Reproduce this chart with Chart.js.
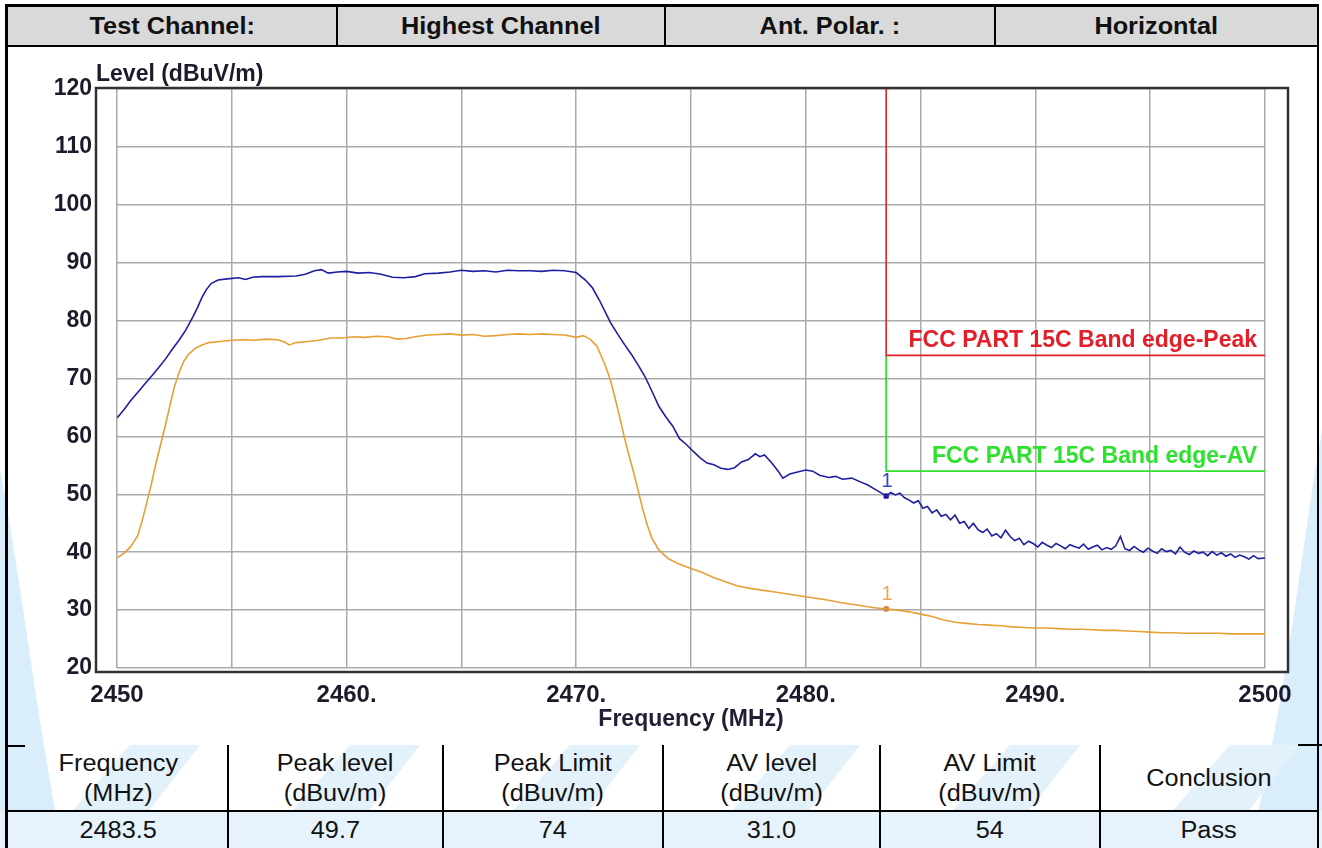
<!DOCTYPE html>
<html><head><meta charset="utf-8">
<script src="https://cdn.jsdelivr.net/npm/chart.js@4/dist/chart.umd.min.js"></script>
<style>
html,body{margin:0;padding:0;background:#fff;width:1322px;height:848px;overflow:hidden;font-family:"Liberation Sans",Arial,sans-serif;}
#wm{position:absolute;left:0;top:0;z-index:0;}
.hc{position:absolute;top:4px;height:43px;background:#d9d9d9;box-sizing:border-box;border-top:3px solid #000;border-bottom:2px solid #000;display:flex;align-items:center;justify-content:center;font-weight:bold;font-size:23px;color:#111;z-index:2;}
.hc span,.tc span{display:inline-block;transform:scaleX(1.1);}
.tc{position:absolute;box-sizing:border-box;display:flex;align-items:center;justify-content:center;text-align:center;font-size:23px;color:#111;z-index:2;line-height:30px;}
.vl{position:absolute;background:#000;z-index:3;}
#box{position:absolute;left:5px;top:47px;width:1314px;height:698px;border-left:3px solid #000;border-right:2px solid #000;box-sizing:border-box;z-index:1;}
#wrap{position:absolute;left:0;top:47px;width:1322px;height:698px;z-index:2;}
</style></head>
<body>
<svg id="wm" width="1322" height="848">
  <path d="M0,470 C18,560 34,700 62,848 L0,848 Z" fill="#d9edfa"/>
  <path d="M1322,430 C1302,540 1290,680 1250,848 L1322,848 Z" fill="#d9edfa"/>
  <polygon points="130,745 200,745 120,848 40,848" fill="#e3f1fb"/>
  <polygon points="350,745 420,745 340,848 260,848" fill="#e3f1fb"/>
  <polygon points="570,745 640,745 560,848 480,848" fill="#e3f1fb"/>
  <polygon points="790,745 860,745 780,848 700,848" fill="#e3f1fb"/>
  <polygon points="1010,745 1080,745 1000,848 920,848" fill="#e3f1fb"/>
  <polygon points="1230,745 1300,745 1220,848 1140,848" fill="#e3f1fb"/>
  <rect x="0" y="811" width="1322" height="37" fill="#e6f3fc"/>
</svg>

<div class="hc" style="left:5px;width:331px;border-left:3px solid #000;"><span>Test Channel:</span></div>
<div class="hc" style="left:336px;width:328px;border-left:2px solid #000;"><span>Highest Channel</span></div>
<div class="hc" style="left:664px;width:330px;border-left:2px solid #000;"><span>Ant. Polar. :</span></div>
<div class="hc" style="left:994px;width:325px;border-left:2px solid #000;border-right:2px solid #000;"><span>Horizontal</span></div>

<div id="box"></div>
<div id="wrap"><canvas id="c"></canvas></div>

<div class="vl" style="left:5px;top:745px;width:3px;height:103px;"></div>
<div class="vl" style="left:5px;top:745px;width:20px;height:2px;"></div>
<div class="vl" style="left:1298px;top:744px;width:24px;height:2px;"></div>
<div class="vl" style="left:227px;top:745px;width:2px;height:103px;"></div>
<div class="vl" style="left:442px;top:745px;width:2px;height:103px;"></div>
<div class="vl" style="left:662px;top:745px;width:2px;height:103px;"></div>
<div class="vl" style="left:879px;top:745px;width:2px;height:103px;"></div>
<div class="vl" style="left:1099px;top:745px;width:2px;height:103px;"></div>
<div class="vl" style="left:1317px;top:745px;width:2px;height:103px;"></div>
<div class="vl" style="left:5px;top:810px;width:1314px;height:2px;"></div>

<div class="tc" style="left:8px;top:745px;width:220px;height:65px;"><span>Frequency<br>(MHz)</span></div>
<div class="tc" style="left:228px;top:745px;width:215px;height:65px;"><span>Peak level<br>(dBuv/m)</span></div>
<div class="tc" style="left:443px;top:745px;width:220px;height:65px;"><span>Peak Limit<br>(dBuv/m)</span></div>
<div class="tc" style="left:663px;top:745px;width:217px;height:65px;"><span>AV level<br>(dBuv/m)</span></div>
<div class="tc" style="left:880px;top:745px;width:220px;height:65px;"><span>AV Limit<br>(dBuv/m)</span></div>
<div class="tc" style="left:1100px;top:745px;width:218px;height:65px;"><span>Conclusion</span></div>
<div class="tc" style="left:8px;top:812px;width:220px;height:36px;"><span>2483.5</span></div>
<div class="tc" style="left:228px;top:812px;width:215px;height:36px;"><span>49.7</span></div>
<div class="tc" style="left:443px;top:812px;width:220px;height:36px;"><span>74</span></div>
<div class="tc" style="left:663px;top:812px;width:217px;height:36px;"><span>31.0</span></div>
<div class="tc" style="left:880px;top:812px;width:220px;height:36px;"><span>54</span></div>
<div class="tc" style="left:1100px;top:812px;width:218px;height:36px;"><span>Pass</span></div>

<script>
// ---- data ----
const peakFreq = [
2450.0,2450.3,2450.6,2450.9,2451.2,2451.5,2451.8,2452.1,2452.4,2452.7,2453.0,2453.3,2453.5,2453.7,2453.9,2454.1,2454.4,2454.8,2455.3,2455.6,2455.9,2456.3,2457.0,2457.8,2458.2,2458.6,2458.9,2459.2,2459.6,2460.0,2460.5,2461.0,2461.5,2462.0,2462.5,2463.0,2463.4,2464.0,2464.5,2465.0,2465.5,2466.0,2466.5,2467.0,2467.5,2468.0,2468.5,2469.0,2469.5,2470.0,2470.4,2470.7,2471.0,2471.3,2471.5,2471.8,2472.1,2472.4,2472.7,2473.0,2473.3,2473.6,2473.9,2474.2,2474.5,2474.8,2475.1,2475.4,2475.7,2476.0,2476.3,2476.6,2476.9,2477.2,2477.5,2477.8,2478.0,2478.2,2478.5,2478.8,2479.0,2479.3,2479.6,2480.0,2480.3,2480.6,2481.0,2481.3,2481.6,2482.0,2482.4,2482.7,2483.0,2483.3,2483.5,
2483.7,2483.9,2484.1,2484.3,2484.5,2484.7,2484.9,2485.1,2485.3,2485.5,2485.7,2485.9,2486.1,2486.3,2486.5,2486.7,2486.9,2487.1,2487.3,2487.5,2487.7,2487.9,2488.1,2488.3,2488.5,2488.7,2488.9,2489.1,2489.3,2489.5,2489.7,2489.9,2490.1,2490.3,2490.5,2490.7,2490.9,2491.1,2491.3,2491.5,2491.7,2491.9,2492.1,2492.3,2492.5,2492.7,2492.9,2493.1,2493.3,2493.5,2493.7,2493.9,2494.1,2494.3,2494.5,2494.7,2494.9,2495.1,2495.3,2495.5,2495.7,2495.9,2496.1,2496.3,2496.5,2496.7,2496.9,2497.1,2497.3,2497.5,2497.7,2497.9,2498.1,2498.3,2498.5,2498.7,2498.9,2499.1,2499.3,2499.5,2499.7,2500.0];
const peakLevel = [
63.2,64.6,66.2,67.6,69.0,70.4,71.8,73.3,75.0,76.6,78.4,80.6,82.2,84.0,85.4,86.4,87.0,87.2,87.4,87.1,87.5,87.6,87.6,87.7,88.0,88.6,88.8,88.2,88.4,88.5,88.2,88.3,88.0,87.5,87.4,87.6,88.1,88.2,88.4,88.7,88.5,88.6,88.4,88.7,88.6,88.6,88.5,88.7,88.6,88.3,87.0,85.7,83.6,81.2,79.6,77.7,75.9,74.2,72.3,70.3,67.8,65.2,63.4,61.8,59.6,58.6,57.4,56.3,55.4,55.1,54.5,54.3,54.6,55.6,56.0,57.0,56.5,56.8,55.5,54.0,52.8,53.5,53.8,54.2,54.0,53.3,52.9,53.1,52.6,52.8,52.1,51.6,50.9,50.2,49.7,
50.3,49.9,50.2,49.4,49.0,48.5,48.9,47.6,47.9,46.8,47.3,46.2,46.5,45.6,46.4,45.0,45.3,44.1,45.0,43.9,43.4,44.0,42.8,43.2,42.5,43.8,42.7,42.0,42.4,41.3,41.9,41.5,40.9,41.7,41.2,40.8,41.5,41.1,40.6,41.3,41.0,40.7,41.4,40.5,40.9,41.2,40.4,40.8,40.5,41.1,42.7,40.6,40.3,41.0,40.4,40.0,40.7,40.2,39.8,40.6,40.1,40.3,39.7,40.9,40.0,39.6,40.2,39.8,40.0,39.4,40.1,39.5,39.9,39.3,39.7,39.1,39.5,39.2,38.8,39.4,38.9,39.0];
const avFreq = [
2450.0,2450.3,2450.6,2450.9,2451.1,2451.3,2451.5,2451.7,2451.9,2452.1,2452.3,2452.5,2452.7,2452.9,2453.1,2453.4,2453.7,2454.0,2454.5,2455.0,2455.5,2456.0,2456.5,2457.0,2457.3,2457.5,2457.8,2458.3,2458.8,2459.3,2459.8,2460.3,2460.8,2461.3,2461.8,2462.2,2462.6,2463.0,2463.5,2464.0,2464.5,2465.0,2465.5,2466.0,2466.5,2467.0,2467.5,2468.0,2468.5,2469.0,2469.5,2470.0,2470.3,2470.6,2470.9,2471.1,2471.3,2471.5,2471.7,2471.9,2472.1,2472.3,2472.5,2472.7,2472.9,2473.1,2473.3,2473.6,2474.0,2474.5,2475.0,2475.5,2476.0,2476.5,2477.0,2477.5,2478.0,2478.5,2479.0,2479.5,2480.0,2480.5,2481.0,2481.5,2482.0,2482.5,2483.0,2483.5,2484.0,2484.5,2485.0,2485.5,2486.0,2486.5,2487.0,2487.5,2488.0,2488.5,2489.0,2489.5,2490.0,2490.5,2491.0,2491.5,2492.0,2492.5,2493.0,2493.5,2494.0,2494.5,2495.0,2495.5,2496.0,2496.5,2497.0,2497.5,2498.0,2498.5,2499.0,2499.5,2500.0];
const avLevel = [
39.0,39.8,41.0,42.8,45.5,48.6,51.8,55.4,58.6,61.8,65.2,68.6,71.0,72.9,74.1,75.2,75.8,76.2,76.4,76.6,76.7,76.6,76.8,76.7,76.3,75.8,76.2,76.4,76.6,77.0,77.0,77.2,77.1,77.3,77.2,76.8,76.9,77.2,77.5,77.6,77.7,77.5,77.6,77.3,77.4,77.6,77.7,77.6,77.7,77.6,77.5,77.1,77.4,76.8,75.6,73.8,71.9,69.6,66.5,63.2,59.8,56.7,53.8,50.6,47.4,44.6,42.4,40.4,38.9,37.9,37.2,36.5,35.6,34.9,34.2,33.8,33.5,33.2,32.9,32.6,32.3,32.0,31.7,31.3,31.0,30.7,30.4,30.2,30.0,29.7,29.3,28.9,28.3,27.9,27.7,27.5,27.4,27.3,27.1,27.0,26.9,26.9,26.8,26.7,26.7,26.6,26.5,26.5,26.4,26.3,26.2,26.1,26.1,26.0,26.0,26.0,26.0,25.9,25.9,25.9,25.9];

const xTickValues = [2450, 2460, 2470, 2480, 2490, 2500];
const xTickLabels = ['2450', '2460.', '2470.', '2480.', '2490.', '2500'];
const yTickLabels = ['20', '30', '40', '50', '60', '70', '80', '90', '100', '110', '120'];
const limitFreq = 2483.5;
const limitTop = 120;
const limitEnd = 2500;
const peakLimit = 74;
const avLimit = 54;
const limitNames = ['FCC PART 15C Band edge-Peak', 'FCC PART 15C Band edge-AV'];
const markerFreq = 2483.5;
const markerPeak = 49.7;
const markerAv = 30.2;
const markerLabel = '1';
const yAxisLabel = 'Level (dBuV/m)';
const xAxisLabel = 'Frequency (MHz)';

const BLUE = '#1e1ea2', ORANGE = '#e6a035', RED = '#e3202a', GREEN = '#2fe02f';
const FONT = '"Liberation Sans", Arial, sans-serif';

const zip = (xs, ys) => xs.map((x, i) => ({x: x, y: ys[i]}));

const framePlugin = {
  id: 'frame',
  beforeDraw(chart) {
    const a = chart.chartArea, c = chart.ctx;
    c.save();
    c.fillStyle = '#ffffff';
    c.fillRect(a.left - 21, a.top - 1, a.right - a.left + 44, a.bottom - a.top + 5);
    c.restore();
  },
  afterDatasetsDraw(chart) {
    const a = chart.chartArea, c = chart.ctx;
    c.save();
    c.strokeStyle = '#333333';
    c.lineWidth = 2.5;
    c.strokeRect(a.left - 21, a.top - 1, a.right - a.left + 44, a.bottom - a.top + 5);
    const xs = chart.scales.x, ys = chart.scales.y;
    c.fillStyle = '#1b1b2b';
    c.font = 'bold 23px ' + FONT;
    c.textAlign = 'left';
    c.textBaseline = 'alphabetic';
    c.fillText(yAxisLabel, a.left - 21, a.top - 8);
    c.textAlign = 'right';
    c.fillStyle = RED;
    c.fillText(limitNames[0], xs.getPixelForValue(limitEnd) - 8, ys.getPixelForValue(peakLimit) - 8);
    c.fillStyle = GREEN;
    c.fillText(limitNames[1], xs.getPixelForValue(limitEnd) - 8, ys.getPixelForValue(avLimit) - 8);
    c.font = '20px ' + FONT;
    c.textAlign = 'center';
    c.fillStyle = '#3048b8';
    c.fillText(markerLabel, xs.getPixelForValue(markerFreq) + 1, ys.getPixelForValue(markerPeak) - 9);
    c.fillStyle = '#e8a85a';
    c.fillText(markerLabel, xs.getPixelForValue(markerFreq) + 1, ys.getPixelForValue(markerAv) - 9);
    c.restore();
  }
};

new Chart(document.getElementById('c'), {
  type: 'line',
  data: {
    datasets: [
      {data: zip([limitFreq, limitFreq, limitEnd], [limitTop, peakLimit, peakLimit]), borderColor: RED, borderWidth: 1.6, pointRadius: 0},
      {data: zip([limitFreq, limitFreq, limitEnd], [peakLimit, avLimit, avLimit]), borderColor: GREEN, borderWidth: 1.8, pointRadius: 0},
      {data: zip(avFreq, avLevel), borderColor: ORANGE, borderWidth: 1.6, pointRadius: 0},
      {data: zip(peakFreq, peakLevel), borderColor: BLUE, borderWidth: 1.6, pointRadius: 0},
      {data: [{x: markerFreq, y: markerPeak}], showLine: false, pointStyle: 'rect', pointRadius: 3, backgroundColor: BLUE, borderColor: BLUE},
      {data: [{x: markerFreq, y: markerAv}], showLine: false, pointStyle: 'rect', pointRadius: 3, backgroundColor: '#e07a2a', borderColor: '#e07a2a'}
    ]
  },
  options: {
    responsive: true,
    maintainAspectRatio: false,
    animation: false,
    devicePixelRatio: 1,
    layout: {padding: {left: 47, right: 57, top: 42, bottom: 0}},
    plugins: {legend: {display: false}, tooltip: {enabled: false}},
    elements: {line: {tension: 0}},
    scales: {
      x: {
        type: 'linear', min: 2450, max: 2500,
        afterFit(s) { s.height = 77; },
        afterBuildTicks(s) { s.ticks = []; for (let v = 2450; v <= 2500; v += 5) s.ticks.push({value: v}); },
        grid: {color: '#aaaaaa', lineWidth: 1.5, drawTicks: false},
        border: {display: false},
        ticks: {
          autoSkip: false, maxRotation: 0, padding: 13, color: '#1b1b2b',
          font: {family: FONT, size: 24, weight: 'bold'},
          callback(v) { const i = xTickValues.indexOf(v); return i >= 0 ? xTickLabels[i] : ''; }
        },
        title: {display: true, text: xAxisLabel, color: '#1f1f35', padding: {top: 0, bottom: 12},
          font: {family: FONT, size: 23, weight: 'bold'}}
      },
      y: {
        type: 'linear', min: 20, max: 120,
        afterFit(s) { s.width = 70; },
        grid: {color: '#aaaaaa', lineWidth: 1.5, drawTicks: false},
        border: {display: false},
        ticks: {
          stepSize: 10, padding: 25, color: '#1b1b2b',
          font: {family: FONT, size: 23, weight: 'bold'},
          callback(v) { const s = String(v); return yTickLabels.indexOf(s) >= 0 ? s : ''; }
        }
      }
    }
  },
  plugins: [framePlugin]
});
</script>
</body></html>
